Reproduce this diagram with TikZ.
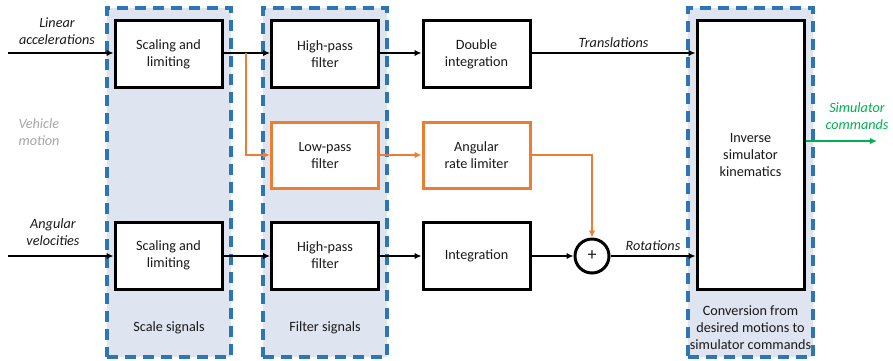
\documentclass[tikz,border=0pt]{standalone}
\usepackage{fontspec}
\setmainfont{Carlito}
\usepackage{tikz}
\usetikzlibrary{arrows.meta}
\definecolor{frameblue}{RGB}{46,117,182}
\definecolor{framefill}{RGB}{222,228,240}
\definecolor{sigorange}{RGB}{237,125,49}
\definecolor{siggreen}{RGB}{0,176,80}
\definecolor{txtgray}{RGB}{166,166,166}

\begin{document}
\begin{tikzpicture}[x=1pt, y=-1pt,
    every node/.style={font=\fontsize{14.2}{17}\selectfont, text=black!90, align=center},
    frame/.style={draw=frameblue, fill=framefill, line width=3.2pt, dash pattern=on 11pt off 7pt, minimum width=124pt, minimum height=349pt},
    blk/.style={draw=black, fill=white, line width=3pt, minimum width=107pt, minimum height=67pt},
    oblk/.style={blk, draw=sigorange},
    arr/.style={line width=2.2pt, -{Latex[length=7pt,width=6.5pt]}},
    oarr/.style={arr, draw=sigorange},
    lbl/.style={font=\fontsize{14.2}{17}\selectfont\itshape}]
  \useasboundingbox (0,0) rectangle (893,360);

  % stage frames
  \node[frame] (fscale) at (169,182.5) {};
  \node[frame] (ffilter) at (325,182.5) {};
  \node[frame, minimum width=125pt] (fconv) at (750.5,182.5) {};
  \node (tscale) at (169,328) {Scale signals};
  \node (tfilter) at (325,328) {Filter signals};
  \node (tconv) at (750.5,328) {Conversion from\\desired motions to\\simulator commands};

  % blocks
  \node[blk] (scale1) at (168.5,54) {Scaling and\\limiting};
  \node[blk] (scale2) at (168.5,255.5) {Scaling and\\limiting};
  \node[blk] (hp1) at (325,54) {High-pass\\filter};
  \node[oblk, minimum height=66pt] (lp) at (325,155) {Low-pass\\filter};
  \node[blk] (hp2) at (325,255.5) {High-pass\\filter};
  \node[blk] (dint) at (476.5,54) {Double\\integration};
  \node[oblk, minimum height=66pt] (arl) at (476.5,155) {Angular\\rate limiter};
  \node[blk] (integ) at (476.5,255.5) {Integration};
  \node[draw, circle, line width=3pt, fill=white, minimum size=34pt, inner sep=0pt, font=\fontsize{18}{18}\selectfont] (sum) at (592,256) {+};
  \node[blk, minimum height=269pt] (kin) at (750.5,154.5) {Inverse\\simulator\\kinematics};

  % inputs
  \coordinate (in1) at (8,53);
  \coordinate (in2) at (8,256);
  \coordinate (split) at (246,53);
  \coordinate (out) at (877,141);
  \node[lbl] (lin) at (57,31.5) {Linear\\accelerations};
  \node[lbl] (ang) at (53,232) {Angular\\velocities};
  \node[lbl, text=txtgray, align=left, anchor=west] (veh) at (15,132.5) {Vehicle\\motion};

  % signals
  \draw[arr] (in1) -- (in1 -| scale1.west);
  \draw[arr] (scale1.east |- in1) -- (hp1.west |- in1);
  \draw[arr] (hp1.east |- in1) -- (dint.west |- in1);
  \draw[arr] (dint.east |- in1) -- (kin.west |- in1) node[lbl, midway, above=1pt] {Translations};
  \draw[oarr] (split) |- (lp.west);
  \draw[oarr] (lp) -- (arl);
  \draw[oarr] (arl.east) -| (sum.north);
  \draw[arr] (in2) -- (in2 -| scale2.west);
  \draw[arr] (scale2.east |- in2) -- (hp2.west |- in2);
  \draw[arr] (hp2.east |- in2) -- (integ.west |- in2);
  \draw[arr] (integ.east |- in2) -- (sum.west);
  \draw[arr] (sum.east) -- (kin.west |- sum) node[lbl, midway, above=1pt] {Rotations};
  \draw[arr, draw=siggreen] (kin.east |- out) -- (out);
  \node[lbl, text=siggreen] (simcmd) at (857,116) {Simulator\\commands};
\end{tikzpicture}
\end{document}
